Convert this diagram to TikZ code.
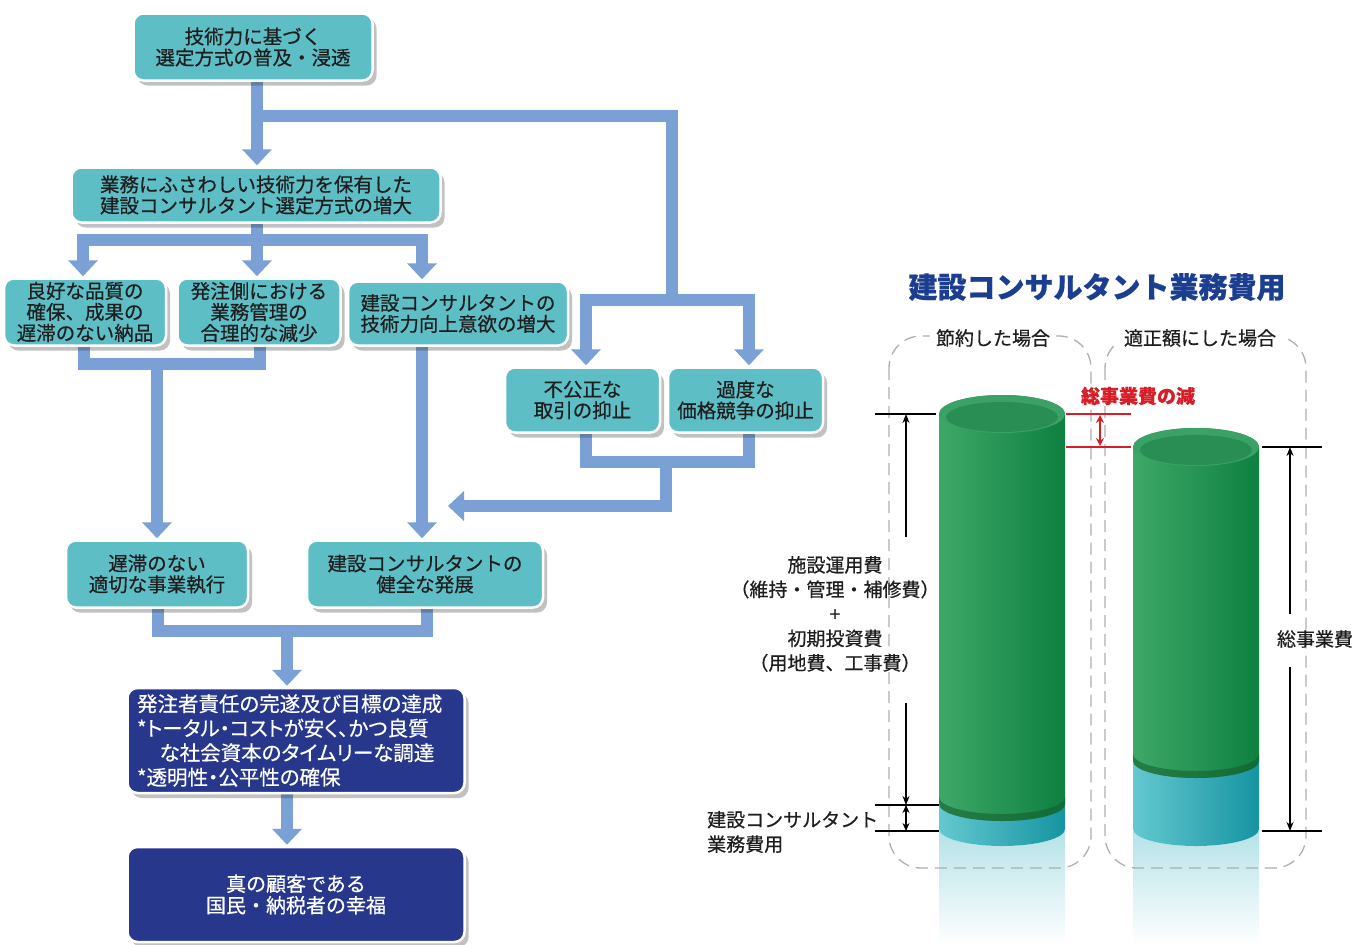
\documentclass[tikz,border=0pt]{standalone}
\usepackage{fontspec}
\setmainfont{Noto Sans CJK JP}[FakeBold=0.5]
\newfontfamily\jpp{Noto Sans CJK JP}[RawFeature=+palt, FakeBold=0.5]
\usetikzlibrary{arrows.meta,shadows,calc}
\definecolor{boxteal}{RGB}{94,190,197}
\definecolor{flowc}{RGB}{122,160,214}
\definecolor{navyc}{RGB}{38,55,140}
\definecolor{titleblue}{RGB}{27,62,145}
\definecolor{redc}{RGB}{215,30,40}
\definecolor{gA}{RGB}{62,168,104}
\definecolor{gM}{RGB}{44,158,90}
\definecolor{gB}{RGB}{14,128,64}
\definecolor{gTop}{RGB}{58,162,102}
\definecolor{gTopIn}{RGB}{40,142,84}
\definecolor{gDark}{RGB}{20,90,45}
\definecolor{tA}{RGB}{100,200,208}
\definecolor{tB}{RGB}{22,148,162}
\definecolor{reflT}{RGB}{180,226,232}
\definecolor{reflG}{RGB}{205,234,214}
\definecolor{panelc}{RGB}{175,175,175}
\definecolor{txt}{RGB}{30,30,30}
\pgfdeclarelayer{paper}
\pgfdeclarelayer{bg}
\pgfsetlayers{paper,bg,main}
\newcommand\drawcyl[4]{%
  \shade[top color=reflT, middle color=reflG, bottom color=white]
    (#1-63,#4) arc[start angle=180,end angle=360,x radius=63pt,y radius=17pt]
    -- (#1+63,945) -- (#1-63,945) -- cycle;
}
\newcommand\drawcylbody[4]{%
  \shade[left color=tA, right color=tB]
    (#1-63,#3) -- (#1-63,#4) arc[start angle=180,end angle=360,x radius=63pt,y radius=17pt]
    -- (#1+63,#3) arc[start angle=0,end angle=180,x radius=63pt,y radius=17pt] -- cycle;
  \shade[left color=gA, middle color=gM, right color=gB]
    (#1-63,#2) -- (#1-63,#3) arc[start angle=180,end angle=360,x radius=63pt,y radius=17pt]
    -- (#1+63,#2) arc[start angle=0,end angle=180,x radius=63pt,y radius=19pt] -- cycle;
  \fill[gDark, opacity=0.55]
    (#1-63,#3-7) arc[start angle=180,end angle=360,x radius=63pt,y radius=17pt]
    -- (#1+63,#3) arc[start angle=0,end angle=-180,x radius=63pt,y radius=17pt] -- cycle;
  \fill[gTop] (#1,#2) ellipse[x radius=63pt,y radius=19pt];
  \fill[gTopIn] (#1,#2+3) ellipse[x radius=56pt,y radius=15pt];
}
\begin{document}
\begin{tikzpicture}[x=1pt,y=-1pt,
  tbox/.style={draw=white, line width=2.5pt, fill=boxteal, rounded corners=10pt,
    inner sep=0pt, align=center, text=txt,
    font=\fontsize{19.5}{21}\selectfont,
    drop shadow={shadow xshift=4pt, shadow yshift=-5pt, opacity=0.3, fill=black!80}},
  nbox/.style={tbox, fill=navyc, text=white},
  fl/.style={draw=flowc, line width=12pt, line join=miter},
  flh/.style={fl, line cap=rect},
  fla/.style={fl, -{Triangle[width=29pt,length=16pt]}, shorten >=1pt},
  dim/.style={line width=1.1pt, black},
  dima/.style={dim, -{Stealth[length=9pt,width=7pt]}},
  dimaa/.style={dim, {Stealth[length=8pt,width=7pt]}-{Stealth[length=8pt,width=7pt]}},
  reddim/.style={line width=1.6pt, redc},
  panel/.style={draw=panelc, line width=1.3pt, dash pattern=on 12pt off 7pt, rounded corners=32pt},
  plabel/.style={fill=white, inner xsep=6pt, inner ysep=2pt, text=txt, font=\fontsize{19}{21}\selectfont},
  clabel/.style={text=txt, font=\fontsize{19}{24.5}\selectfont, inner sep=0pt},
]
\useasboundingbox (0,0) rectangle (1368,945);
\begin{pgfonlayer}{paper}
\fill[white] (0,0) rectangle (1368,945);
\end{pgfonlayer}

% ---------------- flow chart boxes ----------------
\node[tbox, minimum width=239pt, minimum height=67pt] (b1) at (253,47) {技術力に基づく\\選定方式の普及・浸透};
\node[tbox, minimum width=369pt, minimum height=55pt] (b2) at (256,195) {業務にふさわしい技術力を保有した\\建設コンサルタント選定方式の増大};
\node[tbox, minimum width=162pt, minimum height=67pt] (b3a) at (85,312) {良好な品質の\\確保、成果の\\遅滞のない納品};
\node[tbox, minimum width=163pt, minimum height=67pt] (b3b) at (259,312) {発注側における\\業務管理の\\合理的な減少};
\node[tbox, minimum width=220pt, minimum height=64pt] (b3c) at (458,313.5) {建設コンサルタントの\\技術力向上意欲の増大};
\node[tbox, minimum width=155pt, minimum height=65pt] (b4a) at (582.5,400) {不公正な\\取引の抑止};
\node[tbox, minimum width=155pt, minimum height=65pt] (b4b) at (745.5,400) {過度な\\価格競争の抑止};
\node[tbox, minimum width=182pt, minimum height=67pt] (b5a) at (157,574) {遅滞のない\\適切な事業執行};
\node[tbox, minimum width=236pt, minimum height=67pt] (b5b) at (425,574) {建設コンサルタントの\\健全な発展};
\node[nbox, minimum width=337pt, minimum height=105pt, text width=318pt, align=left,
  font=\jpp\fontsize{20.5}{24.5}\selectfont] (b6) at (296,740.5)
  {発注者責任の完遂及び目標の達成\\{*}トータル・コストが安く、かつ良質\\{}\hspace{1.1em}な社会資本のタイムリーな調達\\{*}透明性・公平性の確保};
\node[nbox, minimum width=337pt, minimum height=95pt, font=\fontsize{20}{21.5}\selectfont] (b7) at (296,894.5) {真の顧客である\\国民・納税者の幸福};

% ---------------- flow connectors ----------------
\begin{pgfonlayer}{bg}
\coordinate (a0) at (257,0);
\coordinate (j1) at (257,116);
\coordinate (j2) at (672,300);
\coordinate (j3) at (586,300);
\coordinate (j4) at (749,300);
\draw[fla] (a0 |- b1.south) -- (a0 |- b2.north);
\draw[fl] (j1) -| (j2);
\draw[flh] (j3) -- (j4);
\draw[fla] (j3) -- (j3 |- b4a.north);
\draw[fla] (j4) -- (j4 |- b4b.north);

\coordinate (k0) at (257,240);
\coordinate (k1) at (83,240);
\coordinate (k3) at (422,240);
\draw[fl] (a0 |- b2.south) -- (k0);
\draw[flh] (k1) -- (k3);
\draw[fla] (k1) -- (k1 |- b3a.north);
\draw[fla] (k0) -- (k0 |- b3b.north);
\draw[fla] (k3) -- (k3 |- b3c.north);

\coordinate (n1) at (84,364);
\coordinate (n2) at (260,364);
\coordinate (n3) at (157,364);
\draw[fl] (n1 |- b3a.south) -- (n1) -- (n2) -- (n2 |- b3b.south);
\draw[fla] (n3) -- (n3 |- b5a.north);
\draw[fla] (k3 |- b3c.south) -- (k3 |- b5b.north);

\coordinate (m1) at (586,462);
\coordinate (m2) at (749,462);
\coordinate (m3) at (666,462);
\coordinate (m4) at (666,506);
\coordinate (m5) at (448,506);
\draw[fl] (m1 |- b4a.south) -- (m1) -- (m2) -- (m2 |- b4b.south);
\draw[fla, shorten >=0pt] (m3) -- (m4) -- (m5);

\coordinate (p1) at (158,631);
\coordinate (p2) at (427,631);
\coordinate (p3) at (287,631);
\draw[fl] (p1 |- b5a.south) -- (p1) -- (p2) -- (p2 |- b5b.south);
\draw[fla] (p3) -- (p3 |- b6.north);
\draw[fla] (p3 |- b6.south) -- (p3 |- b7.north);
\end{pgfonlayer}

% ---------------- chart ----------------
\node[text=titleblue, font=\fontsize{29}{32}\bfseries\selectfont] (title) at (1097,287) {建設コンサルタント業務費用};

\drawcyl{1002}{414}{804}{829}
\drawcyl{1196}{447}{761}{829}

\draw[panel] (889,336) rectangle (1091,868);
\draw[panel] (1105,336) rectangle (1306,868);
\node[plabel] (pl1) at (993,338) {節約した場合};
\node[plabel] (pl2) at (1200,338) {適正額にした場合};

\drawcylbody{1002}{414}{804}{829}
\drawcylbody{1196}{447}{761}{829}

% dimension lines left
\coordinate (L1a) at (875,414);  \coordinate (L1b) at (936,414);
\coordinate (L2a) at (875,805);  \coordinate (L2b) at (939,805);
\coordinate (L3a) at (875,831);  \coordinate (L3b) at (939,831);
\draw[dim] (L1a) -- (L1b);
\draw[dim] (L2a) -- (L2b);
\draw[dim] (L3a) -- (L3b);
\coordinate (v1) at (906,537);
\coordinate (v1t) at (906,414);
\coordinate (v2) at (906,703);
\coordinate (v2t) at (906,805);
\coordinate (v3a) at (906,805);
\coordinate (v3b) at (906,831);
\draw[dima] (v1) -- (v1t);
\draw[dima] (v2) -- (v2t);
\draw[dimaa] (v3a) -- (v3b);

% red difference
\coordinate (R1a) at (1066,414); \coordinate (R1b) at (1131,414);
\coordinate (R2a) at (1066,447); \coordinate (R2b) at (1131,447);
\draw[reddim] (R1a) -- (R1b);
\draw[reddim] (R2a) -- (R2b);
\coordinate (rv1) at (1100,415); \coordinate (rv2) at (1100,446);
\draw[reddim, {Stealth[length=8pt,width=8pt]}-{Stealth[length=8pt,width=8pt]}] (rv1) -- (rv2);
\node[text=redc, font=\fontsize{19}{21}\bfseries\selectfont] (dlabel) at (1138,396) {総事業費の減};

% right dimension
\coordinate (S1a) at (1262,447); \coordinate (S1b) at (1322,447);
\coordinate (S2a) at (1262,831); \coordinate (S2b) at (1322,831);
\draw[dim] (S1a) -- (S1b);
\draw[dim] (S2a) -- (S2b);
\coordinate (w1) at (1290,614); \coordinate (w1t) at (1290,447);
\coordinate (w2) at (1290,667); \coordinate (w2t) at (1290,831);
\draw[dima] (w1) -- (w1t);
\draw[dima] (w2) -- (w2t);
\node[clabel] (tot) at (1315,639) {総事業費};

% left labels
\node[clabel, align=center] (costs) at (835,614) {施設運用費\\（維持・管理・補修費）\\+\\初期投資費\\（用地費、工事費）};
\node[clabel, align=left, anchor=west] (cons) at (707,832) {建設コンサルタント\\業務費用};
\end{tikzpicture}
\end{document}
